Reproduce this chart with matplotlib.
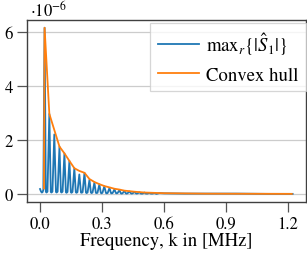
import matplotlib
matplotlib.use("Agg")
import matplotlib.pyplot as plt

# values in units of 1e-6
blue_k = [0.000, 0.004, 0.008, 0.012, 0.016, 0.022,
          0.028, 0.031, 0.036, 0.045,
          0.052, 0.055, 0.060, 0.069,
          0.077, 0.080, 0.085, 0.094,
          0.101, 0.104, 0.109, 0.118,
          0.125, 0.128, 0.133, 0.142,
          0.149, 0.152, 0.157, 0.166,
          0.173, 0.176, 0.181, 0.190,
          0.198, 0.201, 0.206, 0.215,
          0.222, 0.225, 0.230, 0.239,
          0.246, 0.249, 0.254, 0.263,
          0.270, 0.273, 0.278, 0.287,
          0.294, 0.297, 0.302, 0.311,
          0.319, 0.322, 0.327, 0.336,
          0.343, 0.346, 0.351, 0.360,
          0.367, 0.370, 0.375, 0.384,
          0.391, 0.394, 0.399, 0.408,
          0.415, 0.418, 0.423, 0.432,
          0.440, 0.443, 0.448, 0.457,
          0.464, 0.467, 0.472, 0.481,
          0.488, 0.491, 0.496, 0.505,
          0.512, 0.515, 0.520, 0.529,
          0.536, 0.539, 0.544, 0.553,
          0.560, 0.563, 0.568, 0.577,
          0.600, 0.700, 0.800, 0.950, 1.100, 1.222]
blue_v = [0.18, 0.10, 0.05, 0.06, 0.15, 6.15,
          0.08, 0.05, 0.08, 2.96,
          0.07, 0.05, 0.08, 2.20,
          0.07, 0.05, 0.08, 1.75,
          0.07, 0.05, 0.08, 1.50,
          0.06, 0.04, 0.07, 1.22,
          0.06, 0.04, 0.07, 0.95,
          0.06, 0.04, 0.06, 0.72,
          0.05, 0.04, 0.06, 0.78,
          0.05, 0.03, 0.05, 0.52,
          0.05, 0.03, 0.05, 0.42,
          0.04, 0.03, 0.04, 0.35,
          0.04, 0.02, 0.04, 0.28,
          0.03, 0.02, 0.03, 0.22,
          0.03, 0.02, 0.03, 0.17,
          0.03, 0.02, 0.03, 0.14,
          0.02, 0.01, 0.02, 0.11,
          0.02, 0.01, 0.02, 0.09,
          0.02, 0.01, 0.02, 0.07,
          0.02, 0.01, 0.02, 0.06,
          0.01, 0.01, 0.01, 0.05,
          0.01, 0.01, 0.01, 0.04,
          0.01, 0.01, 0.01, 0.03,
          0.01, 0.00, 0.01, 0.03,
          0.02, 0.01, 0.01, 0.01, 0.00, 0.00]

hull_k = [0.019, 0.022, 0.045, 0.094, 0.118, 0.142, 0.166, 0.190, 0.215,
          0.239, 0.263, 0.287, 0.311, 0.336, 0.360, 0.384, 0.408, 0.457,
          0.505, 0.601, 0.800, 1.218]
hull_v = [0.20, 6.15, 2.96, 1.75, 1.50, 1.22, 0.95, 0.85, 0.78,
          0.55, 0.44, 0.36, 0.29, 0.24, 0.19, 0.16, 0.12, 0.08,
          0.05, 0.025, 0.008, 0.00]

xticks = [0.0, 0.3, 0.6, 0.9, 1.2]
yticks = [0, 2, 4, 6]

plt.rcParams['font.family'] = ['STIXGeneral', 'DejaVu Serif']
plt.rcParams['mathtext.fontset'] = 'stix'

fig = plt.figure(figsize=(3.07, 2.55), dpi=100)
ax = fig.add_axes([0.088, 0.204, 0.909, 0.714])

ax.plot(blue_k, blue_v, color='#1f77b4', lw=1.3, label=r'$\mathrm{max}_r\{|\hat{S}_1|\}$', zorder=2)
ax.plot(hull_k, hull_v, color='#ff7f0e', lw=1.3, label='Convex hull', zorder=3)

ax.set_xlim(-0.063, 1.287)
ax.set_ylim(-0.3, 6.44)
ax.set_xticks(xticks)
ax.set_xticklabels(['%.1f' % t for t in xticks])
ax.set_yticks(yticks)
ax.tick_params(direction='out', length=7, width=0.9, color='#555555', labelsize=12, pad=3)
ax.grid(axis='y', color='#cccccc', lw=0.9)
ax.set_axisbelow(True)
for s in ax.spines.values():
    s.set_color('#404040')
    s.set_linewidth(1.0)

ax.set_xlabel('Frequency, k in [MHz]', fontsize=13.5, labelpad=0)
ax.text(0.01, 1.0, r'$\cdot 10^{-6}$', transform=ax.transAxes, fontsize=12, ha='left', va='bottom')

leg = ax.legend(loc='upper right', bbox_to_anchor=(0.998, 0.985), borderaxespad=0,
                fontsize=13.5, handlelength=2.2, frameon=True, fancybox=False,
                labelspacing=0.5, handletextpad=0.35, borderpad=0.4)
leg.get_frame().set_edgecolor('#cccccc')
leg.get_frame().set_linewidth(0.9)

fig.savefig('out.png', dpi=100)
